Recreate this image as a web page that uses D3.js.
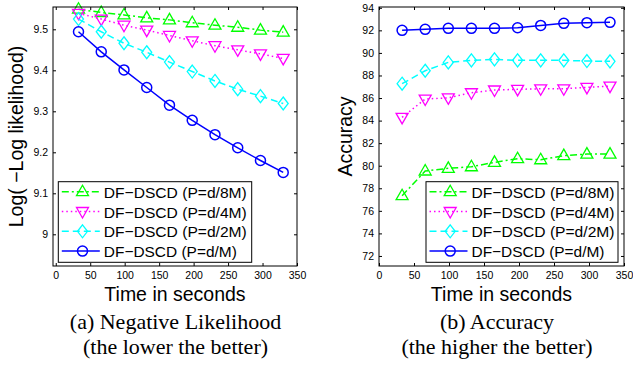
<!DOCTYPE html>
<html>
<head>
<meta charset="utf-8">
<script src="https://cdn.jsdelivr.net/npm/d3@7"></script>
<style>
  body { margin: 0; background: #fff; }
  svg { display: block; }
  .tick text { font-family: "Liberation Sans", Arial, sans-serif; font-size: 10.5px; fill: #000; }
</style>
</head>
<body>
<div id="chart"></div>
<script>
const times = [33, 66, 99, 132, 165, 198, 231, 264, 297, 330];
const seriesNames = ['DF\u2212DSCD (P=d/8M)', 'DF\u2212DSCD (P=d/4M)', 'DF\u2212DSCD (P=d/2M)', 'DF\u2212DSCD (P=d/M)'];

// negative likelihood, Log(-Log likelihood)
const llh8M = [9.549, 9.541, 9.535, 9.528, 9.523, 9.516, 9.510, 9.505, 9.498, 9.493];
const llh4M = [9.539, 9.525, 9.510, 9.498, 9.485, 9.472, 9.460, 9.450, 9.440, 9.429];
const llh2M = [9.525, 9.494, 9.466, 9.444, 9.420, 9.397, 9.374, 9.354, 9.337, 9.319];
const llh1M = [9.494, 9.445, 9.401, 9.358, 9.315, 9.278, 9.243, 9.211, 9.180, 9.151];

// accuracy
const acc8M = [77.34, 79.53, 79.77, 79.91, 80.30, 80.62, 80.53, 80.89, 81.03, 81.03];
const acc4M = [84.29, 85.91, 86.02, 86.47, 86.71, 86.77, 86.82, 86.82, 86.95, 87.06];
const acc2M = [87.27, 88.42, 89.16, 89.34, 89.43, 89.34, 89.34, 89.34, 89.28, 89.25];
const acc1M = [92.00, 92.09, 92.18, 92.18, 92.18, 92.23, 92.44, 92.62, 92.68, 92.71];

const xTicks = [0, 50, 100, 150, 200, 250, 300, 350];
const llhTicks = [9, 9.1, 9.2, 9.3, 9.4, 9.5];
const accTicks = [72, 74, 76, 78, 80, 82, 84, 86, 88, 90, 92, 94];

const styles = [
  { color: '#00ff00', dash: '7,3,2,3', marker: 'up' },
  { color: '#ff00ff', dash: '1.5,3', marker: 'down' },
  { color: '#00ffff', dash: '7,4', marker: 'diamond' },
  { color: '#0000ff', dash: null, marker: 'circle' }
];

const W = 633, H = 368;
const svg = d3.select('#chart').append('svg').attr('width', W).attr('height', H);
const sans = '"Liberation Sans", Arial, sans-serif';
const serif = '"Liberation Serif", "Times New Roman", serif';

function markerPath(type) {
  if (type === 'up') return 'M0,-6.5L6,4L-6,4Z';
  if (type === 'down') return 'M0,6.5L6,-4L-6,-4Z';
  if (type === 'diamond') return 'M0,-6.5L5,0L0,6.5L-5,0Z';
  return null;
}

function drawMarker(g, type, x, y, color) {
  if (type === 'circle') {
    g.append('circle').attr('cx', x).attr('cy', y).attr('r', 5)
      .attr('fill', 'none').attr('stroke', color).attr('stroke-width', 1.5);
  } else {
    g.append('path').attr('d', markerPath(type)).attr('transform', `translate(${x},${y})`)
      .attr('fill', 'none').attr('stroke', color).attr('stroke-width', 1.3);
  }
}

function drawPanel(p) {
  const x = d3.scaleLinear().domain(p.xDomain).range([p.left, p.right]);
  const y = d3.scaleLinear().domain(p.yDomain).range([p.bottom, p.top]);
  const g = svg.append('g');

  // data lines + markers
  p.series.forEach((vals, i) => {
    const st = styles[i];
    const line = d3.line().x((d, j) => x(times[j])).y(d => y(d));
    g.append('path').datum(vals).attr('d', line)
      .attr('fill', 'none').attr('stroke', st.color).attr('stroke-width', 1.5)
      .attr('stroke-dasharray', st.dash);
    vals.forEach((v, j) => drawMarker(g, st.marker, x(times[j]), y(v), st.color));
  });

  // axes with inward ticks on all sides
  const tl = 3;
  g.append('g').attr('transform', `translate(0,${p.bottom})`)
    .call(d3.axisBottom(x).tickValues(xTicks).tickSize(-tl).tickPadding(6).tickFormat(d3.format('d')))
    .call(a => a.select('.domain').remove());
  g.append('g').attr('transform', `translate(0,${p.top})`)
    .call(d3.axisTop(x).tickValues(xTicks).tickSize(-tl).tickFormat(''))
    .call(a => a.select('.domain').remove());
  g.append('g').attr('transform', `translate(${p.left},0)`)
    .call(d3.axisLeft(y).tickValues(p.yTicks).tickSize(-tl).tickPadding(5).tickFormat(p.yFormat))
    .call(a => a.select('.domain').remove());
  g.append('g').attr('transform', `translate(${p.right},0)`)
    .call(d3.axisRight(y).tickValues(p.yTicks).tickSize(-tl).tickFormat(''))
    .call(a => a.select('.domain').remove());
  g.selectAll('.tick line').attr('stroke', '#000');
  g.append('rect').attr('x', p.left).attr('y', p.top)
    .attr('width', p.right - p.left).attr('height', p.bottom - p.top)
    .attr('fill', 'none').attr('stroke', '#000').attr('stroke-width', 1);

  // axis labels
  g.append('text').attr('x', (p.left + p.right) / 2).attr('y', 301)
    .attr('text-anchor', 'middle').style('font-family', sans).style('font-size', '19.5px')
    .text('Time in seconds');
  g.append('text').attr('transform', `translate(${p.yLabelX},${(p.top + p.bottom) / 2}) rotate(-90)`)
    .attr('text-anchor', 'middle').style('font-family', sans).style('font-size', '19.5px')
    .text(p.yLabel);

  // legend
  const lg = g.append('g');
  lg.append('rect').attr('x', p.legX).attr('y', 181.7).attr('width', p.legW).attr('height', 80.6)
    .attr('fill', '#fff').attr('stroke', '#000').attr('stroke-width', 1);
  seriesNames.forEach((name, i) => {
    const st = styles[i];
    const cy = 191.7 + i * 19.8;
    lg.append('line').attr('x1', p.legX + 3.5).attr('x2', p.legX + 41.5).attr('y1', cy).attr('y2', cy)
      .attr('stroke', st.color).attr('stroke-width', 1.5).attr('stroke-dasharray', st.dash);
    drawMarker(lg, st.marker, p.legX + 24.2, cy, st.color);
    lg.append('text').attr('x', p.legX + 45.5).attr('y', cy + 6)
      .style('font-family', sans).style('font-size', '15.5px')
      .attr('textLength', name.length === 16 ? 143 : 133).attr('lengthAdjust', 'spacingAndGlyphs')
      .text(name);
  });

  // caption
  p.caption.forEach((c, i) => {
    svg.append('text').attr('x', p.capX).attr('y', 329 + i * 25)
      .attr('text-anchor', 'middle').style('font-family', serif).style('font-size', '22px')
      .text(c);
  });
}

drawPanel({
  left: 53, right: 297, top: 7, bottom: 266,
  xDomain: [-4, 350], yDomain: [8.9227, 9.5544],
  yTicks: llhTicks, yFormat: d => (d === 9 ? '9' : d3.format('.1f')(d)),
  series: [llh8M, llh4M, llh2M, llh1M],
  yLabel: 'Log( \u2212Log likelihood)', yLabelX: 23,
  legX: 58.3, legW: 193.4,
  caption: ['(a) Negative Likelihood', '(the lower the better)'], capX: 175.5
});

drawPanel({
  left: 379, right: 624, top: 7, bottom: 266,
  xDomain: [0, 350], yDomain: [71.11, 94.07],
  yTicks: accTicks, yFormat: d3.format('d'),
  series: [acc8M, acc4M, acc2M, acc1M],
  yLabel: 'Accuracy', yLabelX: 352,
  legX: 426, legW: 192,
  caption: ['(b) Accuracy', '(the higher the better)'], capX: 497
});
</script>
</body>
</html>
